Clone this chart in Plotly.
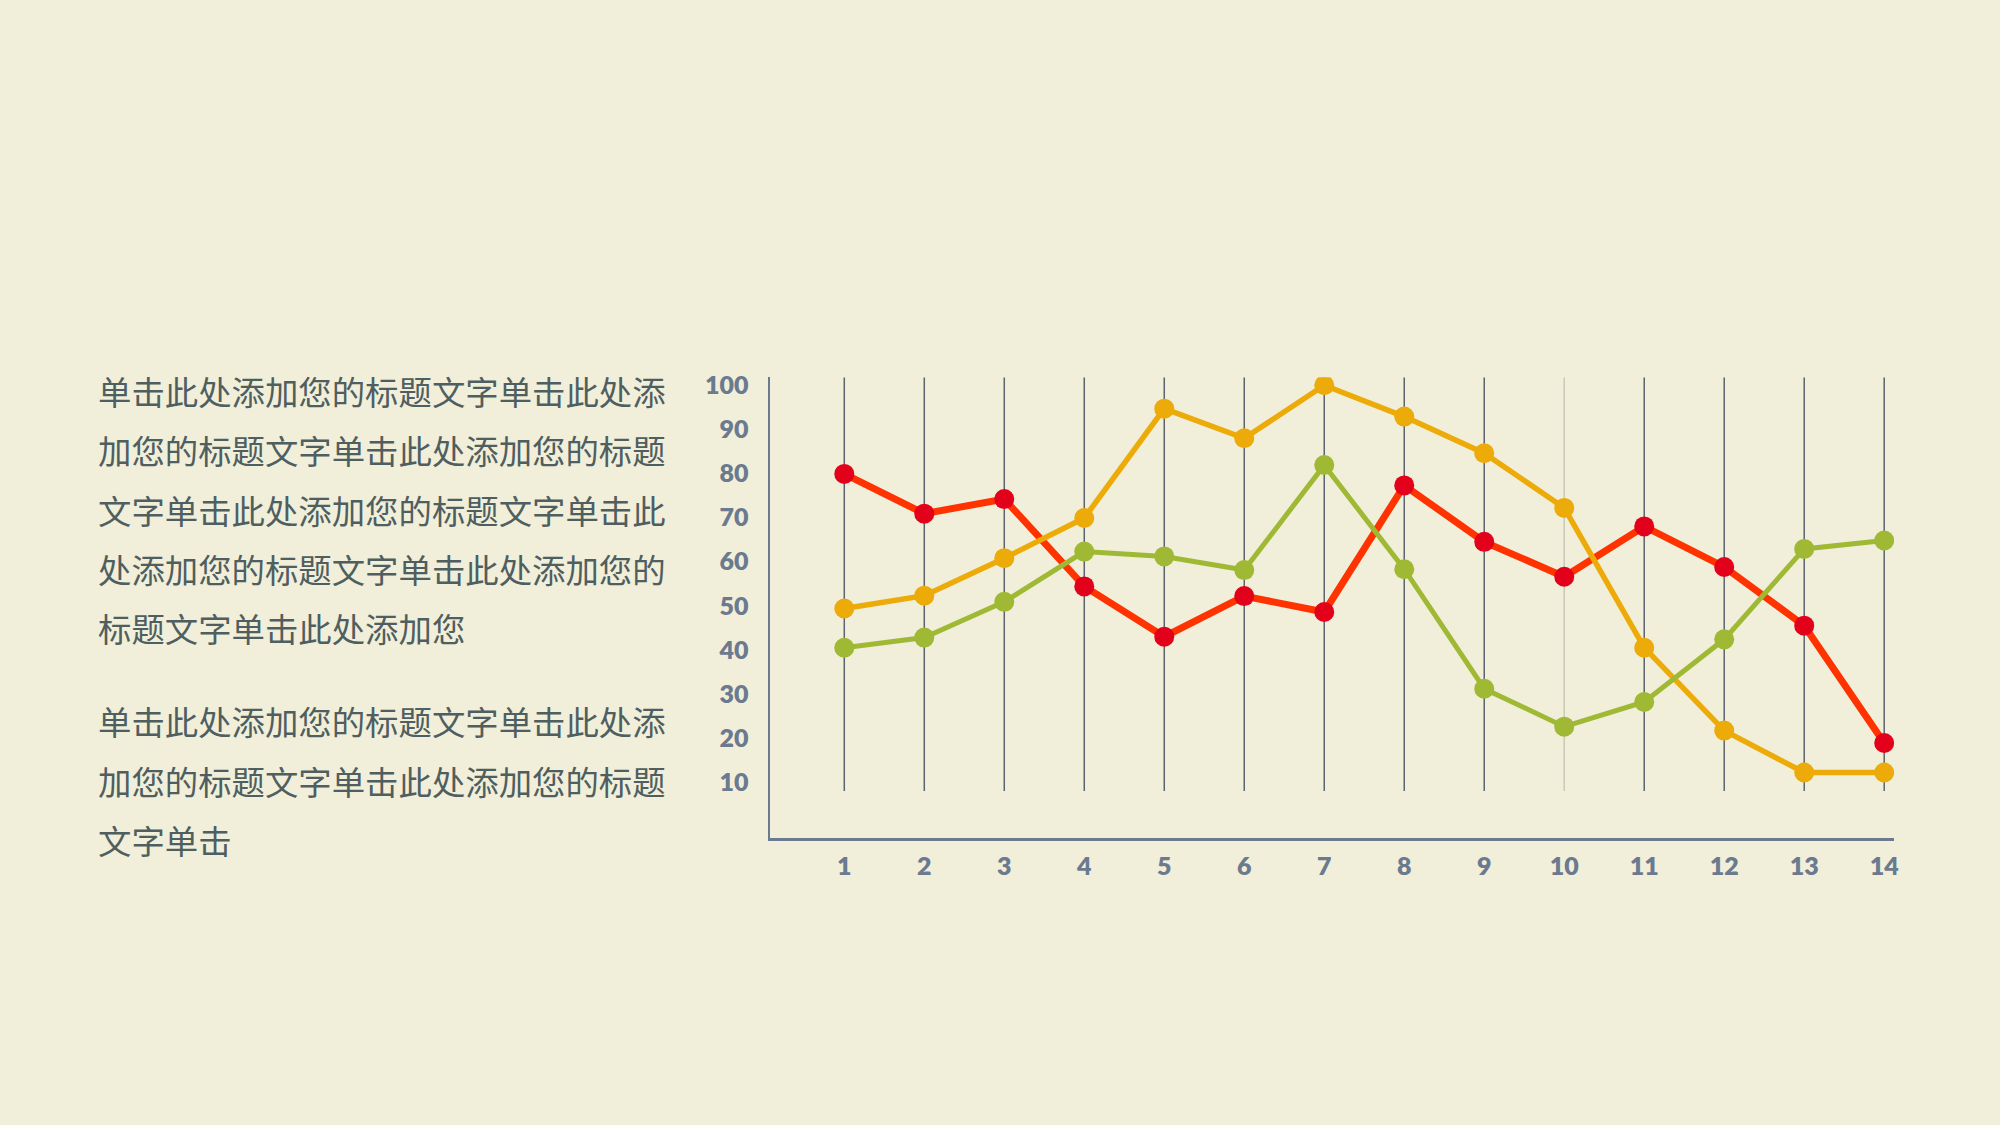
import plotly.graph_objects as go

# data
categories = list(range(1, 15))
red_values = [79.9, 70.9, 74.2, 54.4, 43.0, 52.2, 48.6, 77.3, 64.5, 56.6, 68.0, 58.8, 45.5, 18.9]
orange_values = [49.4, 52.3, 60.8, 69.9, 94.7, 88.0, 100.0, 92.9, 84.6, 72.2, 40.5, 21.7, 12.2, 12.2]
green_values = [40.5, 42.8, 50.9, 62.3, 61.2, 58.1, 81.9, 58.3, 31.2, 22.6, 28.2, 42.4, 62.9, 64.8]
y_ticks = [10, 20, 30, 40, 50, 60, 70, 80, 90, 100]

para_1 = [
    "单击此处添加您的标题文字单击此处添",
    "加您的标题文字单击此处添加您的标题",
    "文字单击此处添加您的标题文字单击此",
    "处添加您的标题文字单击此处添加您的",
    "标题文字单击此处添加您",
]
para_2 = [
    "单击此处添加您的标题文字单击此处添",
    "加您的标题文字单击此处添加您的标题",
    "文字单击",
]

BG = "#f1efd9"
AXIS = "#6b7a8f"
TEXT = "#4f5e60"
W, H = 2000, 1125

fig = go.Figure()

# vertical guide lines, one per category (the 10th is faint in the original)
for c in categories:
    fig.add_shape(type="line", xref="x", yref="y", x0=c, x1=c, y0=8, y1=101.8,
                  line=dict(color="#c9cbb6" if c == 10 else "#5b6470", width=1.5),
                  layer="below")

series = [
    (red_values, "#ff3300", "#e3001b", 7),
    (orange_values, "#edab0a", "#edab0a", 5.5),
    (green_values, "#9fb934", "#9fb934", 5),
]
for vals, lc, mc, lw in series:
    fig.add_trace(go.Scatter(x=categories, y=vals, mode="lines+markers",
                             line=dict(color=lc, width=lw),
                             marker=dict(color=mc, size=20, line=dict(width=0)),
                             showlegend=False, hoverinfo="skip"))

tick_font = dict(family="Lato", size=25, color=AXIS, weight=800)
fig.update_xaxes(domain=[772 / W, 1898 / W], range=[0.077, 14.125],
                 tickmode="array", tickvals=categories, ticktext=[str(c) for c in categories],
                 showgrid=False, zeroline=False, showline=True, linecolor=AXIS, linewidth=3,
                 ticks="", ticklabelstandoff=4, tickfont=tick_font)
fig.update_yaxes(domain=[1 - 836 / H, 1 - 372 / H], range=[-2.66, 101.8],
                 tickmode="array", tickvals=y_ticks, ticktext=[str(v) for v in y_ticks],
                 showgrid=False, zeroline=False, showline=True, linecolor=AXIS, linewidth=2,
                 ticks="", ticklabelstandoff=15, tickfont=tick_font)

# left text block, one annotation per line
line_y = [385, 445, 505, 565, 624]
for txt, y in zip(para_1, line_y):
    fig.add_annotation(text=txt, xref="paper", yref="paper", x=96 / W, y=1 - y / H,
                       xanchor="left", yanchor="middle", showarrow=False,
                       font=dict(family="Noto Sans CJK SC", size=33.4, color=TEXT))
line_y2 = [718, 778, 837]
for txt, y in zip(para_2, line_y2):
    fig.add_annotation(text=txt, xref="paper", yref="paper", x=96 / W, y=1 - y / H,
                       xanchor="left", yanchor="middle", showarrow=False,
                       font=dict(family="Noto Sans CJK SC", size=33.4, color=TEXT))

fig.update_layout(width=W, height=H, paper_bgcolor=BG, plot_bgcolor=BG,
                  margin=dict(l=0, r=0, t=0, b=0))

fig.write_html("out.html", config={"displayModeBar": False},
               post_script="document.body.style.margin='0';")
